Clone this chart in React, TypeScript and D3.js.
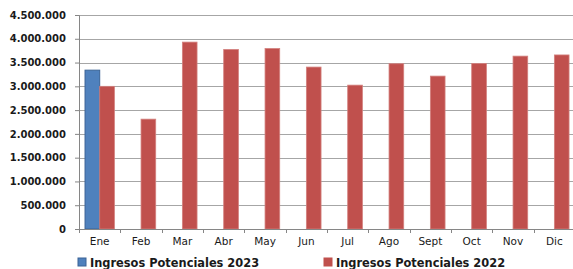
import * as d3 from 'd3'
import { useEffect, useRef } from 'react'

const months = ['Ene', 'Feb', 'Mar', 'Abr', 'May', 'Jun', 'Jul', 'Ago', 'Sept', 'Oct', 'Nov', 'Dic']
const ingresos2023: (number | null)[] = [3340000, null, null, null, null, null, null, null, null, null, null, null]
const ingresos2022 = [3000000, 2310000, 3930000, 3775000, 3795000, 3405000, 3025000, 3475000, 3215000, 3480000, 3635000, 3660000]
const yTicks = [0, 500000, 1000000, 1500000, 2000000, 2500000, 3000000, 3500000, 4000000, 4500000]
const seriesNames = ['Ingresos Potenciales 2023', 'Ingresos Potenciales 2022']

export default function App() {
    const svgRef = useRef<SVGSVGElement>(null)
    const width = 573
    const height = 269

    useEffect(() => {
        if (!svgRef.current) return
        const svg = d3.select(svgRef.current)
        svg.selectAll('*').remove()

        const margin = { top: 15, right: -2, bottom: 40, left: 79 }
        const innerWidth = width - margin.left - margin.right
        const innerHeight = height - margin.top - margin.bottom

        const g = svg
            .append('g')
            .attr('transform', `translate(${margin.left},${margin.top})`)

        const x = d3.scaleBand().domain(months).range([0, innerWidth]).padding(0)
        const y = d3.scaleLinear().domain([0, 4500000]).range([innerHeight, 0])

        const fmt = (v: number) =>
            v === 0 ? '0' : d3.format(',')(v).replace(/,/g, '.')

        // Gridlines
        g.selectAll('.grid')
            .data(yTicks.filter((t) => t > 0))
            .enter()
            .append('line')
            .attr('x1', 0)
            .attr('x2', innerWidth)
            .attr('y1', (d) => Math.round(y(d)) + 0.5)
            .attr('y2', (d) => Math.round(y(d)) + 0.5)
            .attr('stroke', '#a6a6a6')
            .attr('stroke-width', 1)

        const inner = x.bandwidth()
        const barW = inner * 0.355
        const groupOff = inner * 0.146

        // 2023 bars
        g.selectAll('.bar-2023')
            .data(months.map((m, i) => ({ m, v: ingresos2023[i] })).filter((d) => d.v !== null))
            .enter()
            .append('rect')
            .attr('x', (d) => (x(d.m) || 0) + groupOff)
            .attr('y', (d) => y(d.v as number))
            .attr('width', barW)
            .attr('height', (d) => innerHeight - y(d.v as number))
            .attr('fill', '#4f81bd')
            .attr('stroke', '#3a6396')
            .attr('stroke-width', 1)

        // 2022 bars
        g.selectAll('.bar-2022')
            .data(months.map((m, i) => ({ m, v: ingresos2022[i] })))
            .enter()
            .append('rect')
            .attr('x', (d) => (x(d.m) || 0) + groupOff + barW)
            .attr('y', (d) => y(d.v))
            .attr('width', barW)
            .attr('height', (d) => innerHeight - y(d.v))
            .attr('fill', '#c0504d')
            .attr('stroke', '#d3807e')
            .attr('stroke-width', 0.8)

        // Y axis
        const yAxis = g
            .append('g')
            .call(
                d3
                    .axisLeft(y)
                    .tickValues(yTicks)
                    .tickSize(4)
                    .tickPadding(9)
                    .tickFormat((d) => fmt(d as number))
            )
        yAxis.select('.domain').attr('stroke', '#868686').attr('d', `M-4,${innerHeight + 0.5}H0.5V0.5H-4`)
        yAxis.selectAll('.tick line').attr('stroke', '#868686')
        yAxis
            .selectAll('text')
            .attr('fill', '#1a1a1a')
            .style('font-family', 'DejaVu Sans')
            .style('font-weight', 'bold')
            .style('font-size', '10px')

        // X axis
        const xAxis = g
            .append('g')
            .attr('transform', `translate(0,${innerHeight})`)
            .call(d3.axisBottom(x).tickSize(0).tickPadding(9))
        xAxis.select('.domain').attr('stroke', '#868686')
        xAxis
            .selectAll('text')
            .attr('fill', '#1a1a1a')
            .style('font-family', 'DejaVu Sans')
            .style('font-size', '10.5px')
        g.append('g')
            .selectAll('line')
            .data(months)
            .enter()
            .append('line')
            .attr('x1', (d) => Math.round(x(d) || 0) + 0.5)
            .attr('x2', (d) => Math.round(x(d) || 0) + 0.5)
            .attr('y1', innerHeight)
            .attr('y2', innerHeight + 4)
            .attr('stroke', '#868686')

        // Legend
        const legendItems = [
            { name: seriesNames[0], color: '#4f81bd', stroke: '#3a6396', x: 78 },
            { name: seriesNames[1], color: '#c0504d', stroke: '#c0504d', x: 324 },
        ]
        const legend = svg.append('g')
        legendItems.forEach((it) => {
            legend
                .append('rect')
                .attr('x', it.x)
                .attr('y', 258)
                .attr('width', 8)
                .attr('height', 8)
                .attr('fill', it.color)
                .attr('stroke', it.stroke)
            legend
                .append('text')
                .attr('x', it.x + 12)
                .attr('y', 266.5)
                .text(it.name)
                .attr('fill', '#1a1a1a')
                .style('font-family', 'DejaVu Sans')
                .style('font-weight', 'bold')
                .style('font-size', '11.4px')
        })
    }, [])

    return (
        <svg
            ref={svgRef}
            width={width}
            height={height}
            style={{ position: 'absolute', left: 0, top: 0, background: '#fff' }}
        />
    )
}
